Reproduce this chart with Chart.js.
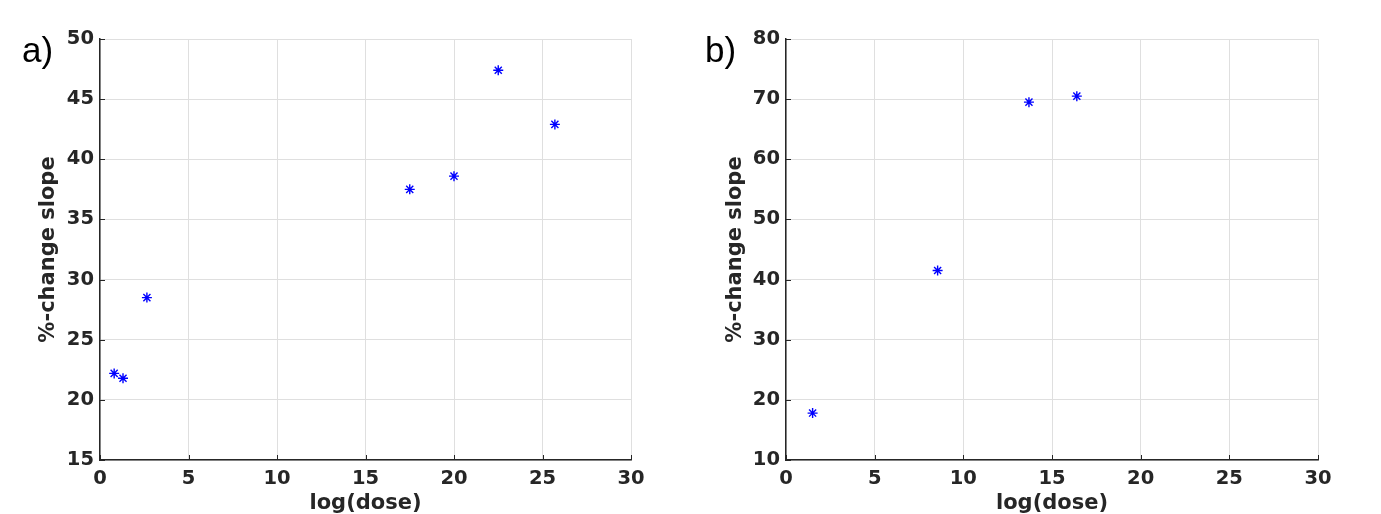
<!DOCTYPE html>
<html>
<head>
<meta charset="utf-8">
<script src="https://cdn.jsdelivr.net/npm/chart.js@4.4.1/dist/chart.umd.min.js"></script>
<style>
  html, body { margin: 0; padding: 0; background: #fff; }
  .panel { position: absolute; top: 0; height: 514px; }
  .tag { position: absolute; font-family: "Liberation Sans", Arial, sans-serif; font-size: 35px; color: #000; line-height: 1; }
</style>
</head>
<body>
<div class="panel" style="left:0;width:690px"><canvas id="chartA"></canvas></div>
<div class="panel" style="left:690px;width:691px"><canvas id="chartB"></canvas></div>
<div class="tag" style="left:22px;top:32px">a)</div>
<div class="tag" style="left:705px;top:32px">b)</div>
<script>
// panel a)
const doseA = [0.8, 1.3, 2.65, 17.5, 20.0, 22.5, 25.7];
const slopeA = [22.2, 21.8, 28.5, 37.5, 38.6, 47.4, 42.9];
const yTicksA = { min: 15, max: 50, step: 5 };

// panel b)
const doseB = [1.5, 8.55, 13.7, 16.4];
const slopeB = [17.8, 41.5, 69.5, 70.5];
const yTicksB = { min: 10, max: 80, step: 10 };

const xTicks = { min: 0, max: 30, step: 5 };

const axisColor = '#262626';
const gridColor = '#dfdfdf';
const fontFam = '"DejaVu Sans", sans-serif';

// MATLAB style ticks pointing into the plot
const inwardTicks = {
    id: 'inwardTicks',
    afterDatasetsDraw(chart) {
        const ctx = chart.ctx;
        const xs = chart.scales.x, ys = chart.scales.y;
        const area = chart.chartArea;
        ctx.save();
        ctx.strokeStyle = axisColor;
        ctx.lineWidth = 1;
        ctx.beginPath();
        xs.ticks.forEach(t => {
            const px = Math.round(xs.getPixelForValue(t.value)) + 0.5;
            ctx.moveTo(px, area.bottom);
            ctx.lineTo(px, area.bottom - 5);
        });
        ys.ticks.forEach(t => {
            const py = Math.round(ys.getPixelForValue(t.value)) + 0.5;
            ctx.moveTo(area.left, py);
            ctx.lineTo(area.left + 5, py);
        });
        ctx.stroke();
        ctx.restore();
    }
};

function makeChart(id, dose, slope, yt, axisW, padRight, titlePad) {
    const pts = dose.map((d, i) => ({ x: d, y: slope[i] }));
    return new Chart(document.getElementById(id), {
        type: 'scatter',
        data: {
            datasets: [{
                data: pts,
                pointStyle: 'star',
                pointRadius: 5,
                borderColor: '#0000ff',
                backgroundColor: '#0000ff',
                pointBorderWidth: 1.4
            }]
        },
        options: {
            responsive: true,
            maintainAspectRatio: false,
            animation: false,
            layout: { padding: { left: 0, right: padRight, top: 39, bottom: 0 } },
            plugins: { legend: { display: false }, tooltip: { enabled: false } },
            scales: {
                x: {
                    type: 'linear',
                    min: xTicks.min, max: xTicks.max,
                    afterFit: s => { s.height = 54; },
                    ticks: { stepSize: xTicks.step, color: axisColor, padding: 7,
                             font: { family: fontFam, size: 19.5, weight: 'bold' } },
                    grid: { color: gridColor, drawTicks: false },
                    border: { color: axisColor, width: 1.5 },
                    title: { display: true, text: 'log(dose)', color: axisColor,
                             padding: { top: 0, bottom: 0 },
                             font: { family: fontFam, size: 21, weight: 'bold', lineHeight: 1 } }
                },
                y: {
                    type: 'linear',
                    min: yt.min, max: yt.max,
                    afterFit: s => { s.width = axisW; },
                    ticks: { stepSize: yt.step, color: axisColor, padding: 6,
                             font: { family: fontFam, size: 19.5, weight: 'bold' } },
                    grid: { color: gridColor, drawTicks: false },
                    border: { color: axisColor, width: 1.5 },
                    title: { display: true, text: '%-change slope', color: axisColor,
                             padding: { top: titlePad, bottom: 0 },
                             font: { family: fontFam, size: 21, weight: 'bold', lineHeight: 1 } }
                }
            }
        },
        plugins: [inwardTicks]
    });
}

makeChart('chartA', doseA, slopeA, yTicksA, 100, 59, 38);
makeChart('chartB', doseB, slopeB, yTicksB, 96, 63, 35.5);
</script>
</body>
</html>
